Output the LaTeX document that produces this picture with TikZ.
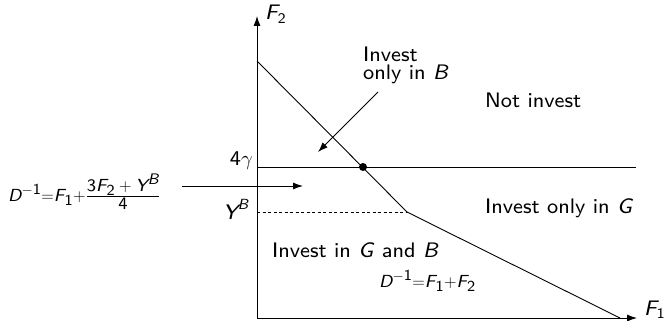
\documentclass[tikz,border=0pt]{standalone}
\usepackage{amsmath}
\usepackage{fontspec}
\newfontfamily\lsf{lmsans8-regular.otf}[ItalicFont=lmsans8-oblique.otf]
\newcommand{\mv}[1]{\text{\lsf\itshape #1}}
\newcommand{\mn}[1]{\text{\lsf #1}}
\DeclareMathSizes{17.5}{17.5}{15.3}{13}
\usetikzlibrary{arrows.meta}
\begin{document}
\begin{tikzpicture}[x=1pt,y=-1pt,
  lbl/.style={inner sep=0pt, font=\fontsize{21}{25}\selectfont\lsf},
  frm/.style={inner sep=0pt, font=\fontsize{17.5}{21}\selectfont\lsf},
  ln/.style={line width=0.9pt},
  arr/.style={line width=0.9pt, -{Latex[length=10pt,width=7pt]}}]
\useasboundingbox (0,0) rectangle (664,321);
\coordinate (O) at (257,318);
\coordinate (Ytop) at (257,16);
\coordinate (Xend) at (637,318);
\coordinate (A) at (257,61);
\coordinate (K) at (407,212);
\coordinate (E) at (620,318);
\coordinate (H0) at (257,167);
\coordinate (H1) at (636,167);
\coordinate (D0) at (257,212);
\coordinate (P) at (363,167);
\draw[arr] (O) -- (Ytop);
\draw[arr] (O) -- (Xend);
\draw[ln] (A) -- (K) -- (E);
\draw[ln] (H0) -- (H1);
\draw[ln, dash pattern=on 3pt off 2.5pt] (D0) -- (K);
\fill (P) circle (4);
\node[lbl, anchor=base west] (f2) at (265,20) {$\mv{F}_{\mn{2}}$};
\node[lbl, anchor=base west] (f1) at (644,315) {$\mv{F}_{\mn{1}}$};
\node[lbl, anchor=base east] (g) at (253,165) {$\mn{4}\gamma$};
\node[lbl, anchor=base east] (yb) at (249,219) {$\mv{Y}^{\mv{B}}$};
\node[frm, anchor=base west] (form) at (8,201) {$\mv{D}^{-\mn{1}}{=}\mv{F}_{\mn{1}}{+}\frac{\textstyle\mn{3}\mv{F}_{\mn{2}}+\mv{Y}^{\mv{B}}}{\textstyle\mn{4}}$};
\coordinate (a0) at (182,186);
\coordinate (a1) at (303,186);
\draw[arr] (a0) -- (a1);
\node[lbl, anchor=base west] (ob1) at (363,62) {Invest};
\node[lbl, anchor=base west] (ob2) at (363,80) {only in \textit{B}};
\coordinate (b0) at (378,92);
\coordinate (b1) at (318,152);
\draw[arr] (b0) -- (b1);
\node[lbl, anchor=base west] (ni) at (485,107) {Not invest};
\node[lbl, anchor=base west] (og) at (485,213) {Invest only in \textit{G}};
\node[lbl, anchor=base west] (gb) at (272,257) {Invest in \textit{G} and \textit{B}};
\node[frm, anchor=base west] (d2) at (379,287) {$\mv{D}^{-\mn{1}}{=}\mv{F}_{\mn{1}}{+}\mv{F}_{\mn{2}}$};
\end{tikzpicture}
\end{document}
